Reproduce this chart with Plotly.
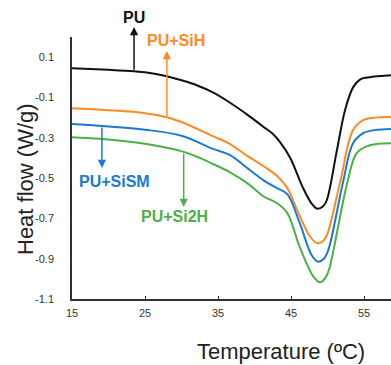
import numpy as np
import plotly.graph_objects as go

# ---- data ----
pu_x = [15, 20, 23.5, 25, 28, 30, 32, 34.3, 36.6, 39, 41.2, 42.5, 43.5, 44.9, 46.6, 47.8, 48.6, 49.4, 49.9, 51.3, 52.4, 53.5, 54.5, 56, 57.2, 58.7]
pu_y = [0.045, 0.037, 0.03, 0.025, 0.005, -0.015, -0.038, -0.075, -0.125, -0.185, -0.245, -0.28, -0.322, -0.40, -0.545, -0.625, -0.652, -0.64, -0.61, -0.36, -0.163, -0.05, -0.01, 0.002, 0.006, 0.01]

sih_x = [15, 20, 25, 28, 30, 34.3, 36.6, 39, 41.2, 43.1, 44.5, 45.8, 47.6, 48.6, 49.3, 49.9, 51.7, 53.5, 54.9, 56.5, 58.7]
sih_y = [-0.153, -0.163, -0.178, -0.198, -0.222, -0.292, -0.33, -0.39, -0.44, -0.49, -0.55, -0.655, -0.79, -0.823, -0.815, -0.785, -0.525, -0.262, -0.213, -0.2, -0.197]

sism_x = [15, 19.1, 25, 30, 34.3, 36.6, 39, 41.2, 43.1, 44.5, 46.2, 47.8, 48.7, 49.5, 50.1, 52.1, 53.5, 54.9, 56.5, 58.7]
sism_y = [-0.232, -0.242, -0.26, -0.29, -0.355, -0.385, -0.45, -0.51, -0.55, -0.58, -0.724, -0.88, -0.915, -0.9, -0.858, -0.525, -0.327, -0.277, -0.262, -0.257]

si2h_x = [15, 18.8, 25, 30.3, 32.5, 34.3, 36.6, 39, 41.2, 43.1, 44.5, 46.2, 48.0, 49.0, 49.8, 50.3, 52.7, 54, 55.8, 58.7]
si2h_y = [-0.297, -0.305, -0.33, -0.37, -0.4, -0.43, -0.47, -0.525, -0.59, -0.625, -0.674, -0.843, -0.985, -1.017, -0.99, -0.942, -0.525, -0.376, -0.337, -0.327]

x_ticks = [15, 25, 35, 45, 55]
y_ticks = [0.1, -0.1, -0.3, -0.5, -0.7, -0.9, -1.1]
y_tick_text = ["0.1", "-0.1", "-0.3", "-0.5", "-0.7", "-0.9", "-1.1"]

series = [
    ("PU", pu_x, pu_y, "#111111"),
    ("PU+SiH", sih_x, sih_y, "#FF8A1E"),
    ("PU+SiSM", sism_x, sism_y, "#1A7AD4"),
    ("PU+Si2H", si2h_x, si2h_y, "#4CAF47"),
]

FONT = "Arial, 'Liberation Sans', sans-serif"

W, H = 391, 365
L, R, T, B = 72, 0, 37, 66
pw, ph = W - L - R, H - T - B
XPX = 7.3  # pixels per degree
X0, X1 = 15, 15 + pw / XPX
Y0, Y1 = -1.1, 0.2


def px_x(v):
    return (v - X0) / (X1 - X0)


def py_y(v):
    return (v - Y0) / (Y1 - Y0)


fig = go.Figure()
for name, xs, ys, col in series:
    fig.add_trace(go.Scatter(x=xs, y=ys, mode="lines", name=name,
                             line=dict(color=col, width=2, shape="spline", smoothing=1.0),
                             showlegend=False, hoverinfo="skip"))

# label arrows: (name, arrow x, head y, text x, text y)
labels = [
    ("PU", 23.5, 0.25, 23.5, 0.299),
    ("PU+SiH", 28.0, 0.13, 29.3, 0.185),
    ("PU+SiSM", 19.1, -0.45, 20.8, -0.515),
    ("PU+Si2H", 30.3, -0.644, 29.1, -0.693),
]
for (name, xs, ys, col), (lab, axp, headv, tx, ty) in zip(series, labels):
    tail = float(np.interp(axp, xs, ys))
    fig.add_annotation(x=axp, y=headv, ax=axp, ay=tail, xref="x", yref="y",
                       axref="x", ayref="y", text="", showarrow=True,
                       arrowhead=2, arrowsize=1.1, arrowwidth=1.5, arrowcolor=col,
                       standoff=0, startstandoff=0)
    fig.add_annotation(x=px_x(tx), y=py_y(ty), xref="paper", yref="paper",
                       xanchor="center", yanchor="middle",
                       text="<b>%s</b>" % lab,
                       showarrow=False, font=dict(family=FONT, size=16, color=col))

# axis titles (pixel positions converted to paper coordinates)
fig.add_annotation(x=(25 - L) / pw, y=1 - (179 - T) / ph, xref="paper", yref="paper",
                   xanchor="center", yanchor="middle", text="Heat flow (W/g)",
                   showarrow=False, textangle=-90,
                   font=dict(family=FONT, size=22, color="#222222"))
fig.add_annotation(x=(281 - L) / pw, y=1 - (351 - T) / ph, xref="paper", yref="paper",
                   xanchor="center", yanchor="middle", text="Temperature (ºC)",
                   showarrow=False, font=dict(family=FONT, size=22, color="#222222"))

fig.update_layout(
    width=W, height=H,
    margin=dict(l=L, r=R, t=T, b=B),
    paper_bgcolor="white", plot_bgcolor="white",
    font=dict(family=FONT, color="#333333"),
)
fig.update_xaxes(range=[X0, X1], tickvals=x_ticks, ticks="inside", ticklen=3,
                 tickcolor="#333333", showline=True, linecolor="#333333", linewidth=1.5,
                 showgrid=False, zeroline=False, tickfont=dict(size=11, color="#333333"),
                 ticklabelstandoff=3)
fig.update_yaxes(range=[Y0, Y1], tickvals=y_ticks, ticktext=y_tick_text, ticks="",
                 showline=True, linecolor="#333333", linewidth=1.5,
                 showgrid=False, zeroline=False, tickfont=dict(size=11, color="#333333"),
                 ticklabelstandoff=14)

fig.write_html("out.html")
